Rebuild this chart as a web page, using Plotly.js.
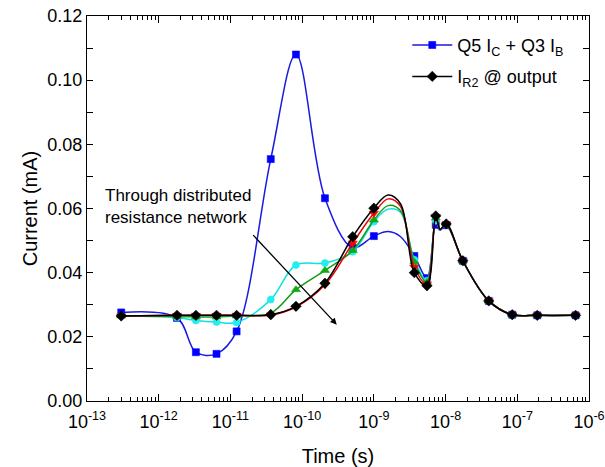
<!DOCTYPE html>
<html>
<head>
<meta charset="utf-8">
<script src="https://cdn.plot.ly/plotly-3.0.1.min.js"></script>
<style>html,body{margin:0;padding:0;background:#fff;}#chart{width:605px;height:467px;}</style>
</head>
<body>
<div id="chart"></div>
<script>
// Shared time base (s)
const time = [3e-13, 1.8e-12, 3.3e-12, 6.4e-12, 1.22e-11, 3.65e-11, 8.2e-11, 2.08e-10, 5.07e-10, 1.0e-9,
              1.58e-9, 2.36e-9, 3.67e-9, 5.5e-9, 7.3e-9, 8.4e-9, 1.02e-8, 1.74e-8, 4.0e-8, 8.5e-8, 1.9e-7, 6.5e-7];
// indices of points drawn on the line without a marker
const unmarked = [10, 11, 15];

const q5q3 = [0.0276, 0.0259, 0.0152, 0.0147, 0.0217, 0.0754, 0.1080, 0.0632, 0.0478, 0.0514,
              0.0528, 0.0512, 0.0452, 0.0383, 0.0549, 0.0532, 0.0548, 0.0437, 0.0312, 0.0269, 0.0267, 0.0267];
const cyanSeries = [0.0265, 0.0260, 0.0251, 0.0246, 0.0245, 0.0316, 0.0424, 0.0430, 0.0465, 0.0559,
              0.0598, 0.0588, 0.0440, 0.0375, 0.0562, 0.0535, 0.0550, 0.0437, 0.0312, 0.0269, 0.0267, 0.0267];
const greenSeries = [0.0265, 0.0263, 0.0262, 0.0262, 0.0265, 0.0274, 0.0347, 0.0407, 0.0469, 0.0564,
              0.0609, 0.0593, 0.0433, 0.0370, 0.0570, 0.0535, 0.0552, 0.0437, 0.0312, 0.0269, 0.0267, 0.0267];
const redSeries = [0.0265, 0.0267, 0.0267, 0.0267, 0.0267, 0.0268, 0.0293, 0.0362, 0.0492, 0.0585,
              0.0630, 0.0606, 0.0417, 0.0365, 0.0575, 0.0535, 0.0552, 0.0437, 0.0312, 0.0269, 0.0267, 0.0267];
const iR2 = [0.0265, 0.0267, 0.0267, 0.0267, 0.0267, 0.0269, 0.0295, 0.0367, 0.0512, 0.0601,
              0.0642, 0.0614, 0.0400, 0.0359, 0.0577, 0.0535, 0.0552, 0.0437, 0.0312, 0.0269, 0.0267, 0.0267];

const xTickVals = [1e-13, 1e-12, 1e-11, 1e-10, 1e-9, 1e-8, 1e-7, 1e-6];
const xTickText = ['-13', '-12', '-11', '-10', '-9', '-8', '-7', '-6'].map(e => '10<sup>' + e + '</sup>');

function colorsFor(c) {
  return time.map((t, i) => unmarked.includes(i) ? 'rgba(0,0,0,0)' : c);
}
function series(name, y, lineColor, markColor, symbol, size, showleg, group) {
  return {
    x: time, y: y, name: name, type: 'scatter', mode: 'lines+markers',
    showlegend: showleg, legendgroup: group,
    line: {color: lineColor, width: 1.5, shape: 'spline', smoothing: 1},
    marker: {symbol: symbol, size: size, color: colorsFor(markColor),
             line: {width: 0.6, color: colorsFor(markColor)}}
  };
}

const traces = [
  series('Q5 I<sub>C</sub> + Q3 I<sub>B</sub>', q5q3, '#1a1ae0', '#0000ff', 'square', 7, true, 'a'),
  series('cyan', cyanSeries, '#10e0e0', '#22eeee', 'circle', 7, false, 'c'),
  series('green', greenSeries, '#129a12', '#14a814', 'triangle-up', 8, false, 'd'),
  series('red', redSeries, '#ee0000', '#ff0000', 'triangle-down', 8, false, 'e'),
  series('I<sub>R2</sub> @ output', iR2, '#000000', '#000000', 'diamond', 8, true, 'b')
];

const font = {family: 'Arial, "Liberation Sans", sans-serif', color: '#000'};
const layout = {
  width: 605, height: 467,
  margin: {l: 87, r: 16, t: 16, b: 66},
  paper_bgcolor: '#fff', plot_bgcolor: '#fff',
  font: Object.assign({size: 18}, font),
  showlegend: true,
  legend: {x: 0.638, y: 0.972, xanchor: 'left', yanchor: 'top', bgcolor: 'rgba(0,0,0,0)',
           font: Object.assign({size: 18}, font), traceorder: 'grouped', tracegroupgap: 5,
           itemwidth: 40},
  xaxis: {
    type: 'log', range: [-13, -6],
    tickmode: 'array', tickvals: xTickVals, ticktext: xTickText,
    ticks: 'inside', ticklen: 7, tickwidth: 1, tickcolor: '#000', ticklabelstandoff: 4,
    minor: {ticks: 'inside', ticklen: 4, dtick: 'D1', tickcolor: '#000', showgrid: false},
    showline: true, linecolor: '#000', linewidth: 1.2, mirror: 'allticks',
    showgrid: false, zeroline: false,
    tickfont: Object.assign({size: 18}, font),
    title: {text: 'Time (s)', font: Object.assign({size: 20}, font), standoff: 18}
  },
  yaxis: {
    range: [0, 0.12], dtick: 0.02, tick0: 0, tickformat: '.2f',
    ticks: 'inside', ticklen: 6, tickwidth: 1, tickcolor: '#000',
    minor: {ticks: 'inside', ticklen: 6, dtick: 0.01, tickcolor: '#000', showgrid: false},
    showline: true, linecolor: '#000', linewidth: 1.2, mirror: 'allticks',
    showgrid: false, zeroline: false,
    tickfont: Object.assign({size: 18}, font),
    title: {text: 'Current (mA)', font: Object.assign({size: 20}, font)}
  },
  annotations: [
    {x: -12.777, y: 0.0605, xref: 'x', yref: 'y', xanchor: 'left', yanchor: 'middle', align: 'left',
     text: 'Through distributed<br>resistance network', showarrow: false,
     font: Object.assign({size: 17}, font)},
    {x: -9.517, y: 0.0238, xref: 'x', yref: 'y', ax: -85, ay: -91, text: '', showarrow: true,
     arrowhead: 2, arrowsize: 1, arrowwidth: 1.3, arrowcolor: '#000', font: {size: 1}}
  ]
};

Plotly.newPlot('chart', traces, layout, {displayModeBar: false, staticPlot: true});
</script>
</body>
</html>
